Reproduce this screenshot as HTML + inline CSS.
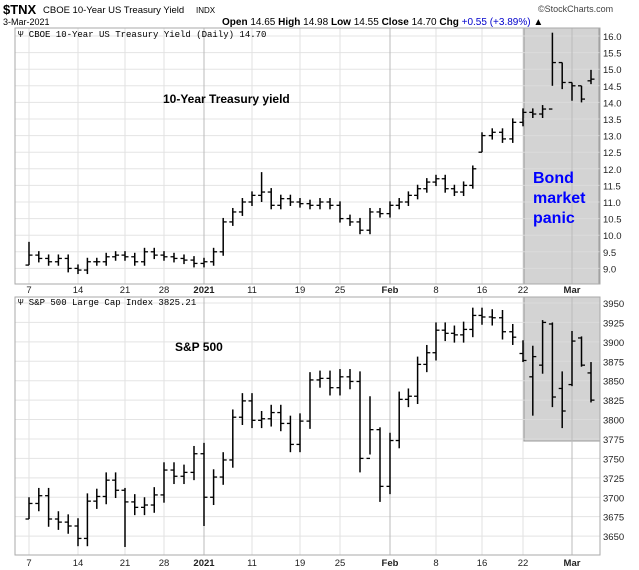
<!DOCTYPE html>
<html><head><meta charset="utf-8"><style>
body{margin:0;background:#fff;}
svg{display:block;font-family:"Liberation Sans",sans-serif;}
</style></head><body>
<svg id="s" width="639" height="570" viewBox="0 0 639 570" xmlns="http://www.w3.org/2000/svg">
<text x="3" y="14" font-size="13" font-weight="bold">$TNX</text>
<text x="43" y="13" font-size="9.5">CBOE 10-Year US Treasury Yield</text>
<text x="196" y="13" font-size="8">INDX</text>
<text x="538" y="12" font-size="9" fill="#444">©StockCharts.com</text>
<text x="3" y="25" font-size="9">3-Mar-2021</text>
<text x="222" y="25" font-size="10"><tspan font-weight="bold">Open</tspan> 14.65 <tspan font-weight="bold">High</tspan> 14.98 <tspan font-weight="bold">Low</tspan> 14.55 <tspan font-weight="bold">Close</tspan> 14.70 <tspan font-weight="bold">Chg</tspan> <tspan fill="#0000cc">+0.55 (+3.89%)</tspan> ▲</text>
<g id="g"></g>
<text x="18" y="37" font-size="9" font-family="Liberation Mono,monospace">Ψ CBOE 10-Year US Treasury Yield (Daily) 14.70</text>
<text x="18" y="305" font-size="9" font-family="Liberation Mono,monospace">Ψ S&amp;P 500 Large Cap Index 3825.21</text>
<text x="163" y="103" font-size="12" font-weight="bold">10-Year Treasury yield</text>
<text x="175" y="351" font-size="12" font-weight="bold">S&amp;P 500</text>
<text x="533" y="183" font-size="16" font-weight="bold" fill="#0000ff">Bond</text>
<text x="533" y="203" font-size="16" font-weight="bold" fill="#0000ff">market</text>
<text x="533" y="223" font-size="16" font-weight="bold" fill="#0000ff">panic</text>
</svg>
<script>
const g=document.getElementById('g');let h='';
const X0=15,X1=600;
const P1={t:28,b:284},P2={t:297,b:555};
function xi(i){const br=[[0,29],[5,78],[10,125],[14,164],[18,204],[23,252],[28,300],[32,340],[37,390],[42,436],[47,482],[51,523],[56,572],[58,591]];for(let k=0;k<br.length-1;k++){if(i<=br[k+1][0]){const a=br[k],b=br[k+1];return a[1]+(b[1]-a[1])*(i-a[0])/(b[0]-a[0]);}}return 591;}
const y1=v=>36+(16-v)*33.2, y2=v=>303+(3950-v)*0.777;
h+=`<rect x="524" y="${P1.t}" width="75" height="${P1.b-P1.t}" fill="#d3d3d3" stroke="#999"/>`;
h+=`<rect x="524" y="${P2.t}" width="76" height="${441-P2.t}" fill="#d3d3d3" stroke="#999"/>`;
for(let v=9;v<=16;v+=0.5){const y=y1(v);h+=`<line x1="${X0}" x2="${X1}" y1="${y}" y2="${y}" stroke="#ddd" stroke-opacity=".8"/><text x="603" y="${y+4}" font-size="9.5" fill="#222">${v.toFixed(1)}</text>`;}
for(let v=3650;v<=3950;v+=25){const y=y2(v);h+=`<line x1="${X0}" x2="${X1}" y1="${y}" y2="${y}" stroke="#ddd" stroke-opacity=".8"/><text x="603" y="${y+4}" font-size="9.5" fill="#222">${v}</text>`;}
const ticks=[[0,'7'],[5,'14'],[10,'21'],[14,'28'],[18,'2021',1],[23,'11'],[28,'19'],[32,'25'],[37,'Feb',1],[42,'8'],[47,'16'],[51,'22'],[56,'Mar',1]];
for(const t of ticks){const x=xi(t[0]);const c=t[2]?'#bbb':'#e2e2e2';
h+=`<line x1="${x}" x2="${x}" y1="${P1.t}" y2="${P1.b}" stroke="${c}"/><line x1="${x}" x2="${x}" y1="${P2.t}" y2="${P2.b}" stroke="${c}"/>`;
for(const yy of [293,566])h+=`<text x="${x}" y="${yy}" font-size="9.5" text-anchor="middle" ${t[2]?'font-weight="bold"':''} fill="#222">${t[1]}</text>`;}
h+=`<rect x="${X0}" y="${P1.t}" width="${X1-X0}" height="${P1.b-P1.t}" fill="none" stroke="#aaa"/>`;
h+=`<rect x="${X0}" y="${P2.t}" width="${X1-X0}" height="${P2.b-P2.t}" fill="none" stroke="#aaa"/>`;
const yc=[9.4,9.3,9.2,9.3,9.0,8.95,9.2,9.2,9.35,9.4,9.35,9.2,9.5,9.4,9.35,9.3,9.25,9.15,9.2,9.5,10.4,10.7,11.0,11.2,11.3,10.9,11.1,11.0,10.95,10.9,11.0,10.9,10.5,10.4,10.15,10.7,10.65,10.9,11.0,11.2,11.4,11.6,11.7,11.4,11.3,11.5,12.0,13.0,13.1,12.9,13.4,13.7,13.65,13.8,15.2,14.6,14.5,14.1,14.7];
const yo={0:[9.8,9.1,9.1],24:[11.9,11.0],46:[12.1,11.4],47:[13.1,12.5,12.5],54:[16.1,14.5],55:[15.2,14.4],56:[14.6,14.05],57:[14.5,14.0],58:[14.98,14.55,14.65]};
const sc=[3692,3702,3672,3668,3663,3647,3695,3701,3722,3709,3694,3687,3690,3703,3735,3727,3732,3756,3700,3726,3748,3803,3824,3799,3801,3809,3795,3768,3798,3851,3853,3841,3855,3849,3750,3787,3714,3773,3826,3830,3871,3886,3915,3911,3909,3916,3934,3932,3931,3913,3906,3876,3881,3925,3829,3811,3901,3870,3825];
const so={0:[3700,3672,3672],10:[3712,3636],18:[3770,3663,3756],34:[3862,3732],35:[3830,3755],36:[3790,3694],51:[3902,3874,3885],52:[3895,3805,3855],53:[3928,3859,3870],54:[3925,3816,3923],55:[3862,3789,3840],56:[3914,3843,3845],57:[3907,3868,3905],58:[3874,3822,3860]};
function bars(c,o,f,d){for(let i=0;i<c.length;i++){let op=i?c[i-1]:c[i],hi,lo;const ov=o[i]||[];if(ov[2]!==undefined)op=ov[2];hi=ov[0]!==undefined?ov[0]:Math.max(op,c[i])+d;lo=ov[1]!==undefined?ov[1]:Math.min(op,c[i])-d;const x=xi(i);
h+=`<line x1="${x}" x2="${x}" y1="${f(hi)}" y2="${f(lo)}" stroke="#000" stroke-width="1.5"/><line x1="${x-3.5}" x2="${x}" y1="${f(op)}" y2="${f(op)}" stroke="#000" stroke-width="1.3"/><line x1="${x}" x2="${x+3.5}" y1="${f(c[i])}" y2="${f(c[i])}" stroke="#000" stroke-width="1.3"/>`;}}
bars(yc,yo,y1,0.12);bars(sc,so,y2,10);
g.innerHTML=h;
</script>
</body></html>
